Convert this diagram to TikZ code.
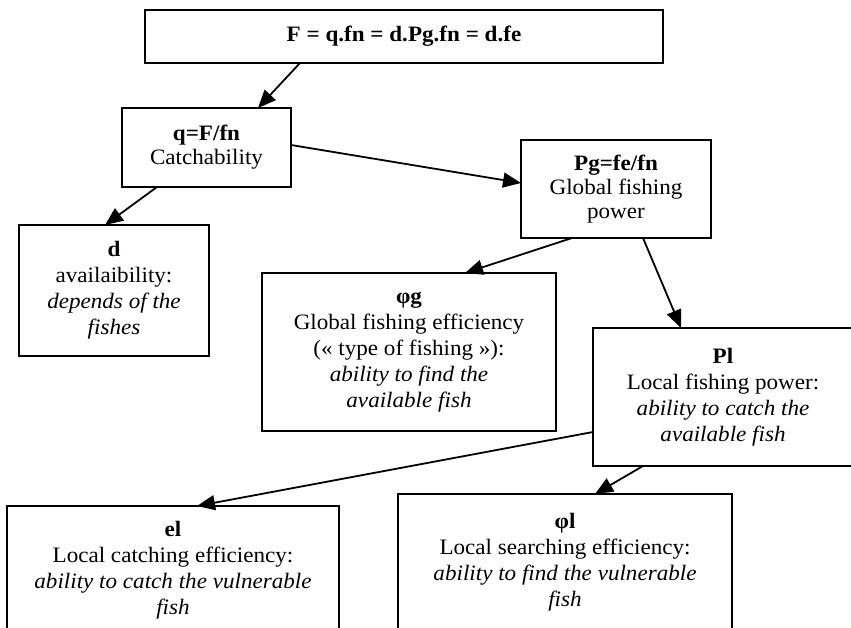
\documentclass[tikz,border=0pt]{standalone}
\usepackage{fontspec}
\setmainfont{Liberation Serif}[FakeStretch=1.05]
\usetikzlibrary{arrows.meta}

\begin{document}
\begin{tikzpicture}[x=1pt,y=-1pt,
    box/.style={draw,line width=2pt,inner sep=0pt,outer sep=0pt,align=center,font=\fontsize{22}{26}\selectfont},
    arr/.style={line width=1.8pt,-{Triangle[length=18pt,width=15pt]}}]
        %边界;
            \useasboundingbox (0,0) rectangle (851,628);
            \clip (0,0) rectangle (851,628);
        %方框
            \node[box,minimum width=518pt,minimum height=53pt] (F) at (404,36.5) {\raisebox{6pt}{\textbf{F = q.fn = d.Pg.fn = d.fe}}};
            \node[box,minimum width=169pt,minimum height=79pt] (q) at (206.5,147.5) {\textbf{q=F/fn}\\[-2pt]Catchability};
            \node[box,minimum width=190pt,minimum height=98pt] (Pg) at (616,189) {\textbf{Pg=fe/fn}\\[-2pt]Global fishing\\[-2pt]power};
            \node[box,minimum width=190pt,minimum height=131pt] (d) at (114,290.5) {\textbf{d}\\availaibility:\\\textit{depends of the}\\\textit{fishes}};
            \node[box,minimum width=294pt,minimum height=158pt] (phig) at (409,352) {\textbf{φg}\\Global fishing efficiency\\(« type of fishing »):\\\textit{ability to find the}\\\textit{available fish}};
            \node[box,minimum width=260pt,minimum height=138pt] (Pl) at (723,397) {\textbf{Pl}\\Local fishing power:\\\textit{ability to catch the}\\\textit{available fish}};
            \node[box,minimum width=332pt,minimum height=128pt] (el) at (173,570) {\textbf{el}\\Local catching efficiency:\\\textit{ability to catch the vulnerable}\\\textit{fish}};
            \node[box,minimum width=334pt,minimum height=136pt] (phil) at (565,562) {\textbf{φl}\\Local searching efficiency:\\\textit{ability to find the vulnerable}\\\textit{fish}};
        %箭头
            \draw[arr] (F.south -| 300,0) -- (q.north -| 258,0);
            \draw[arr] (q.south -| 157,0) -- (d.north -| 105,0);
            \draw[arr] (q.east |- 0,145) -- (Pg.west |- 0,183);
            \draw[arr] (Pg.south -| 572,0) -- (phig.north -| 465,0);
            \draw[arr] (Pg.south -| 643,0) -- (Pl.north -| 681,0);
            \draw[arr] (Pl.west |- 0,432) -- (el.north -| 197,0);
            \draw[arr] (Pl.south -| 643,0) -- (phil.north -| 595,0);
\end{tikzpicture}
\end{document}
